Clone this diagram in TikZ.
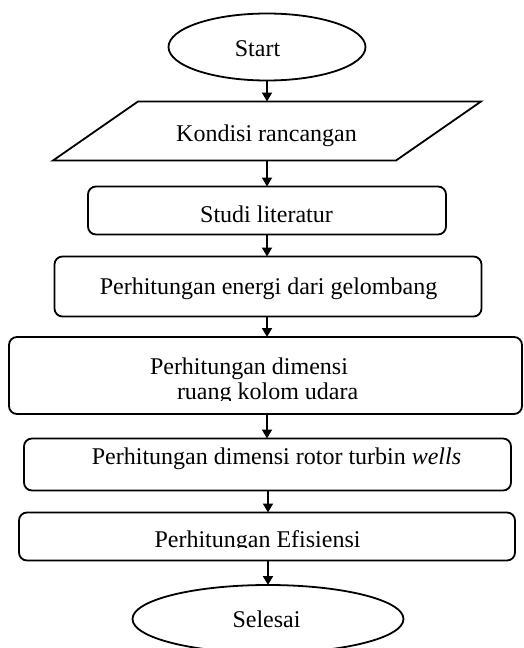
\documentclass[tikz,border=0pt]{standalone}
\usepackage{fontspec}
\setmainfont{Liberation Serif}
\usetikzlibrary{arrows.meta,shapes.geometric}
\tikzset{
  ln/.style={line width=1.8pt, draw=black},
  term/.style={ln, ellipse, inner sep=0pt, outer sep=0pt},
  proc/.style={ln, rectangle, rounded corners=8pt, inner sep=0pt, outer sep=0pt},
  iobox/.style={rectangle, inner sep=0pt, outer sep=0pt},
  txt/.style={inner sep=0pt, outer sep=0pt, anchor=base, font=\fontsize{24}{28}\selectfont},
  txtl/.style={txt, anchor=base west},
  flow/.style={line width=1.8pt, -{Triangle[length=9pt,width=10pt]}}
}
\begin{document}
\begin{tikzpicture}[x=1pt,y=-1pt]
\useasboundingbox (0,0) rectangle (524,648);
% shapes
\node[term, minimum width=197pt, minimum height=67pt] (start) at (267,47) {};
\node[iobox, minimum width=343pt, minimum height=59pt] (kond) at (267,131) {};
\draw[ln, line join=miter] ([xshift=42.5pt]kond.north west) -- ([xshift=42.5pt]kond.north east)
  -- ([xshift=-42.5pt]kond.south east) -- ([xshift=-42.5pt]kond.south west) -- cycle;
\node[proc, minimum width=358pt, minimum height=48pt] (studi) at (267,210.5) {};
\node[proc, minimum width=427pt, minimum height=60pt] (energi) at (268,286.5) {};
\node[proc, minimum width=513pt, minimum height=77pt] (dimensi) at (265.5,375.5) {};
\node[proc, minimum width=487pt, minimum height=52pt] (wells) at (267.5,464.5) {};
\node[proc, minimum width=496pt, minimum height=48pt] (efis) at (267,536.5) {};
\node[term, minimum width=271pt, minimum height=68pt] (selesai) at (268,619) {};
% texts
\node[txt] (tstart) at (257.5,56) {Start};
\node[txt] (tkond) at (266.5,141) {Kondisi rancangan};
\node[txt] (tstudi) at (266.5,222) {Studi literatur};
\node[txt] (tenergi) at (268.5,294) {Perhitungan energi dari gelombang};
\node[txtl] (tdim1) at (150,374) {Perhitungan dimensi};
\begin{scope}
\clip (0,0) rectangle (524,400);
\node[txtl] (tdim2) at (177,399) {ruang kolom udara};
\end{scope}
\node[txt] (twells) at (276.5,464) {Perhitungan dimensi rotor turbin \textit{wells}};
\begin{scope}
\clip (0,0) rectangle (524,547.5);
\node[txt] (tefis) at (257.5,547) {Perhitungan Efisiensi};
\end{scope}
\node[txt] (tsel) at (266.5,627) {Selesai};
% connectors
\draw[flow] (start.south) -- (start.south |- kond.north);
\draw[flow] (start.south |- kond.south) -- (start.south |- studi.north);
\draw[flow] (studi.south) -- (studi.south |- energi.north);
\draw[flow] (studi.south |- energi.south) -- (studi.south |- dimensi.north);
\draw[flow] (studi.south |- dimensi.south) -- (studi.south |- wells.north);
\draw[flow] ([xshift=1pt]studi.south |- wells.south) -- ([xshift=1pt]studi.south |- efis.north);
\draw[flow] ([xshift=1pt]studi.south |- efis.south) -- ([xshift=1pt]studi.south |- selesai.north);
\end{tikzpicture}
\end{document}
